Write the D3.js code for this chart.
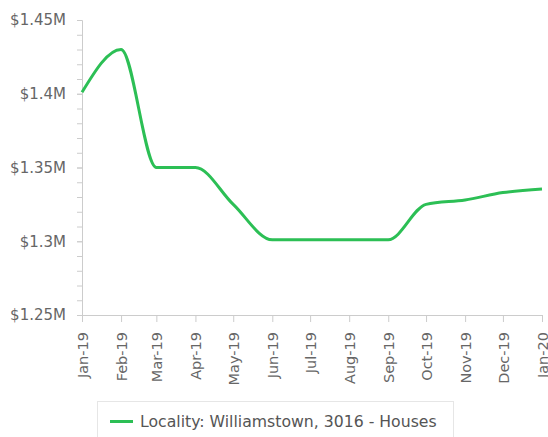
<!DOCTYPE html>
<html>
<head>
<meta charset="utf-8">
<script src="https://cdn.jsdelivr.net/npm/d3@7"></script>
<style>
  body { margin: 0; background: #fff; }
  svg { display: block; font-family: 'DejaVu Sans', sans-serif; }
</style>
</head>
<body>
<div id="chart"></div>
<script>
// monthly median price, in $M
const months = ['2019-01-01', '2019-02-01', '2019-03-01', '2019-04-01', '2019-05-01', '2019-06-01',
  '2019-07-01', '2019-08-01', '2019-09-01', '2019-10-01', '2019-11-01', '2019-12-01', '2020-01-01']
const prices = [1.401, 1.43, 1.35, 1.35, 1.325, 1.301, 1.301, 1.301, 1.301, 1.325, 1.328, 1.333, 1.3355]
const yTicks = [1.25, 1.3, 1.35, 1.4, 1.45]
const seriesName = 'Locality: Williamstown, 3016 - Houses'

const width = 548
const height = 437
const margin = { top: 20, left: 82, right: 6, bottom: 122 }

const parse = d3.timeParse('%Y-%m-%d')
const data = months.map((m, i) => ({ date: parse(m), value: prices[i] }))

const svg = d3
  .select('#chart')
  .append('svg')
  .attr('width', width)
  .attr('height', height)

const x = d3
  .scaleTime()
  .domain(d3.extent(data, d => d.date))
  .range([margin.left, width - margin.right])

const y = d3
  .scaleLinear()
  .domain([1.25, 1.45])
  .range([height - margin.bottom, margin.top])

// y axis: major labels every 0.05, minor ticks every 0.01
const minor = d3.range(125, 146).map(d => d / 100)
svg.append('g')
  .attr('transform', `translate(${margin.left},0)`)
  .call(d3.axisLeft(y).tickValues(minor).tickSize(5).tickFormat(''))
  .call(g => g.selectAll('line').attr('stroke', '#ccc'))
  .call(g => g.select('.domain').attr('stroke', '#ccc'))

svg.append('g')
  .attr('transform', `translate(${margin.left},0)`)
  .call(d3.axisLeft(y).tickValues(yTicks).tickSize(5).tickPadding(11)
    .tickFormat(d => '$' + (+d.toFixed(2)) + 'M'))
  .call(g => g.select('.domain').remove())
  .call(g => g.selectAll('line').attr('stroke', '#ccc'))
  .call(g => g.selectAll('text')
    .attr('fill', '#666')
    .attr('font-size', 15)
    .attr('font-family', 'DejaVu Sans'))

// x axis
svg.append('g')
  .attr('transform', `translate(0,${height - margin.bottom})`)
  .call(d3.axisBottom(x).tickValues(data.map(d => d.date)).tickSize(7)
    .tickFormat(d3.timeFormat('%b-%y')))
  .call(g => g.select('.domain').attr('stroke', '#ccc'))
  .call(g => g.selectAll('line').attr('stroke', '#ccc'))
  .call(g => g.selectAll('text')
    .attr('fill', '#666')
    .attr('font-size', 14.5)
    .attr('font-family', 'DejaVu Sans')
    .attr('transform', 'rotate(-90)')
    .attr('text-anchor', 'end')
    .attr('x', -17)
    .attr('y', 0)
    .attr('dy', '0.35em'))

const line = d3
  .line()
  .x(d => x(d.date))
  .y(d => y(d.value))
  .curve(d3.curveMonotoneX)

svg.append('path')
  .datum(data)
  .attr('d', line)
  .attr('fill', 'none')
  .attr('stroke', '#2cbf55')
  .attr('stroke-width', 3)
  .attr('stroke-linejoin', 'round')

// legend
const legend = svg.append('g')
legend.append('rect')
  .attr('x', 97.5)
  .attr('y', 401.5)
  .attr('width', 356)
  .attr('height', 45)
  .attr('fill', '#fff')
  .attr('stroke', '#e6e6e6')
legend.append('line')
  .attr('x1', 110)
  .attr('x2', 133)
  .attr('y1', 421.5)
  .attr('y2', 421.5)
  .attr('stroke', '#2cbf55')
  .attr('stroke-width', 3)
legend.append('text')
  .attr('x', 140)
  .attr('y', 421.5)
  .attr('dy', '0.35em')
  .attr('fill', '#555')
  .attr('font-size', 15.7)
  .text(seriesName)
</script>
</body>
</html>
